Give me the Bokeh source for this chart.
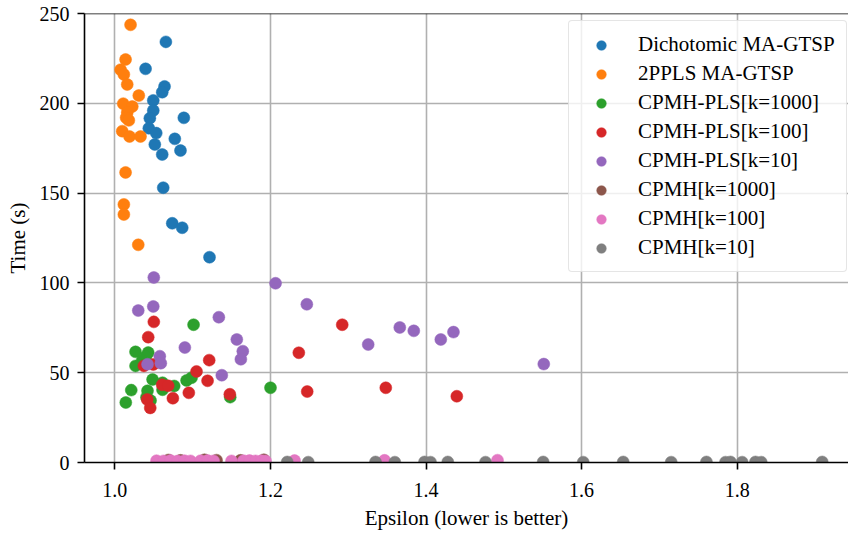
from bokeh.plotting import figure
from bokeh.models import Range1d, FixedTicker, PrintfTickFormatter, Legend, LegendItem, Span
from bokeh.embed import file_html
from bokeh.resources import INLINE

# ---- data ----
labels = ["Dichotomic MA-GTSP", "2PPLS MA-GTSP", "CPMH-PLS[k=1000]", "CPMH-PLS[k=100]",
          "CPMH-PLS[k=10]", "CPMH[k=1000]", "CPMH[k=100]", "CPMH[k=10]"]
colors = ["#1f77b4", "#ff7f0e", "#2ca02c", "#d62728", "#9467bd", "#8c564b", "#e377c2", "#7f7f7f"]

blue_x = [1.0656, 1.0395, 1.0639, 1.0609, 1.0494, 1.0494, 1.0450, 1.0887, 1.0437, 1.0532,
          1.0771, 1.0514, 1.0844, 1.0609, 1.0622, 1.0738, 1.0866, 1.1217]
blue_y = [234.2, 219.2, 209.4, 206.2, 201.6, 196.0, 191.7, 191.9, 186.1, 183.4,
          180.2, 177.1, 173.7, 171.5, 153.0, 133.2, 130.7, 114.3]

orange_x = [1.0202, 1.0138, 1.0074, 1.0116, 1.0159, 1.0308, 1.0108, 1.0224, 1.0160, 1.0145,
            1.0180, 1.0095, 1.0189, 1.0330, 1.0138, 1.0116, 1.0116, 1.0301]
orange_y = [243.7, 224.4, 218.7, 216.1, 210.5, 204.3, 199.8, 198.2, 195.0, 192.0,
            190.5, 184.5, 181.5, 181.5, 161.5, 143.7, 138.1, 121.2]

green_x = [1.1012, 1.0266, 1.0429, 1.0400, 1.0352, 1.0266, 1.0485, 1.0613, 1.0613, 1.0763,
           1.0922, 1.0986, 1.0211, 1.0420, 1.0141, 1.0407, 1.0459, 1.1483, 1.2001]
green_y = [76.7, 61.6, 61.2, 59.0, 56.8, 53.8, 46.2, 44.4, 40.5, 42.6,
           45.7, 47.2, 40.3, 39.9, 33.4, 36.4, 34.5, 36.4, 41.6]

red_x = [1.0501, 1.0429, 1.1213, 1.2365, 1.0373, 1.0494, 1.1050, 1.1192, 1.0609, 1.0686,
         1.0951, 1.0746, 1.1478, 1.2473, 1.0416, 1.0455, 1.2923, 1.3483, 1.4396]
red_y = [78.3, 69.8, 57.0, 61.1, 53.8, 54.6, 50.7, 45.5, 43.3, 42.7,
         38.8, 35.8, 38.0, 39.5, 35.1, 30.4, 76.7, 41.6, 36.9]

purple_x = [1.0501, 1.0301, 1.0494, 1.2066, 1.2468, 1.1337, 1.0900, 1.1568, 1.1645, 1.1620,
            1.0578, 1.0591, 1.0420, 1.1375, 1.3257, 1.3663, 1.3843, 1.4190, 1.4353, 1.5514]
purple_y = [103.0, 84.6, 86.9, 99.8, 88.1, 80.9, 64.0, 68.5, 62.0, 57.5,
            59.2, 55.3, 54.7, 48.6, 65.7, 75.2, 73.3, 68.5, 72.6, 54.8]

brown_x = [1.0690, 1.0844, 1.1153, 1.1307, 1.1615, 1.1916]
brown_y = [1.4, 1.2, 1.5, 1.3, 1.2, 1.5]

pink_x = [1.0536, 1.0626, 1.0716, 1.0806, 1.0896, 1.0973, 1.1102, 1.1192, 1.1269, 1.1500,
          1.1654, 1.1731, 1.1808, 1.1885, 1.1937, 1.2310, 1.3467, 1.4919]
pink_y = [1.0, 0.9, 1.1, 0.8, 1.0, 0.9, 1.0, 1.1, 0.9, 0.9,
          1.0, 1.1, 0.9, 1.0, 0.9, 1.1, 1.2, 1.3]

grey_x = [1.2216, 1.2486, 1.3351, 1.3599, 1.3981, 1.4058, 1.4280, 1.4765, 1.5506, 1.6021,
          1.6535, 1.7152, 1.7605, 1.7850, 1.7914, 1.8064, 1.8235, 1.8309, 1.9093]
grey_y = [0.3, 0.2, 0.3, 0.2, 0.3, 0.2, 0.3, 0.2, 0.3, 0.2,
          0.3, 0.2, 0.3, 0.2, 0.3, 0.2, 0.3, 0.2, 0.3]

series_x = [blue_x, orange_x, green_x, red_x, purple_x, brown_x, pink_x, grey_x]
series_y = [blue_y, orange_y, green_y, red_y, purple_y, brown_y, pink_y, grey_y]

x_ticks = [1.0, 1.2, 1.4, 1.6, 1.8]
y_ticks = [0, 50, 100, 150, 200, 250]
x_label = "Epsilon (lower is better)"
y_label = "Time (s)"

FONT = "Liberation Serif"
TICK_FS = "20px"
LABEL_FS = "21px"

p = figure(width=848, height=534, output_backend="svg", toolbar_location=None,
           x_range=Range1d(0.9610, 1.9431), y_range=Range1d(0, 250),
           min_border_left=84, min_border_right=0, min_border_top=13, min_border_bottom=72)
p.background_fill_color = "white"
p.border_fill_color = "white"
p.outline_line_color = None

renderers = []
for xs, ys, c in zip(series_x, series_y, colors):
    r = p.scatter(xs, ys, size=12, fill_color=c, line_color=c, line_width=0.5)
    renderers.append(r)

for ax, ticks, fmt in ((p.xaxis, x_ticks, "%.1f"), (p.yaxis, y_ticks, "%d")):
    ax.ticker = FixedTicker(ticks=ticks)
    ax.formatter = PrintfTickFormatter(format=fmt)
    ax.axis_line_color = "black"
    ax.axis_line_width = 1.6
    ax.major_tick_line_color = "black"
    ax.major_tick_line_width = 1.6
    ax.major_tick_out = 7
    ax.major_tick_in = 0
    ax.minor_tick_line_color = None
    ax.major_label_text_font = FONT
    ax.major_label_text_font_size = TICK_FS
    ax.major_label_text_color = "black"
    ax.axis_label_text_font = FONT
    ax.axis_label_text_font_size = LABEL_FS
    ax.axis_label_text_font_style = "normal"
    ax.axis_label_text_color = "black"

p.xaxis.axis_label = x_label
p.yaxis.axis_label = y_label
p.xaxis.major_label_standoff = 13
p.yaxis.major_label_standoff = 8
p.xaxis.axis_label_standoff = 6
p.yaxis.axis_label_standoff = 7

p.xgrid.ticker = FixedTicker(ticks=x_ticks)
p.ygrid.ticker = FixedTicker(ticks=y_ticks)
for g in (p.xgrid, p.ygrid):
    g.grid_line_color = "#b0b0b0"
    g.grid_line_width = 1.6

p.add_layout(Span(location=250, dimension="width", line_color="black", line_width=1.6))

items = [LegendItem(label=l, renderers=[r]) for l, r in zip(labels, renderers)]
legend = Legend(items=items, location=(484, 190))
legend.margin = 0
legend.padding = 11
legend.glyph_width = 42
legend.glyph_height = 24
legend.label_height = 24
legend.label_standoff = 16
legend.spacing = 4
legend.label_text_font = FONT
legend.label_text_font_size = LABEL_FS
legend.label_text_color = "black"
legend.border_line_color = "#cccccc"
legend.border_line_width = 1.2
legend.background_fill_color = "white"
legend.background_fill_alpha = 0.8
if "border_radius" in Legend.properties():
    legend.border_radius = 4
p.add_layout(legend)

open("out.html", "w").write(file_html(p, INLINE))
